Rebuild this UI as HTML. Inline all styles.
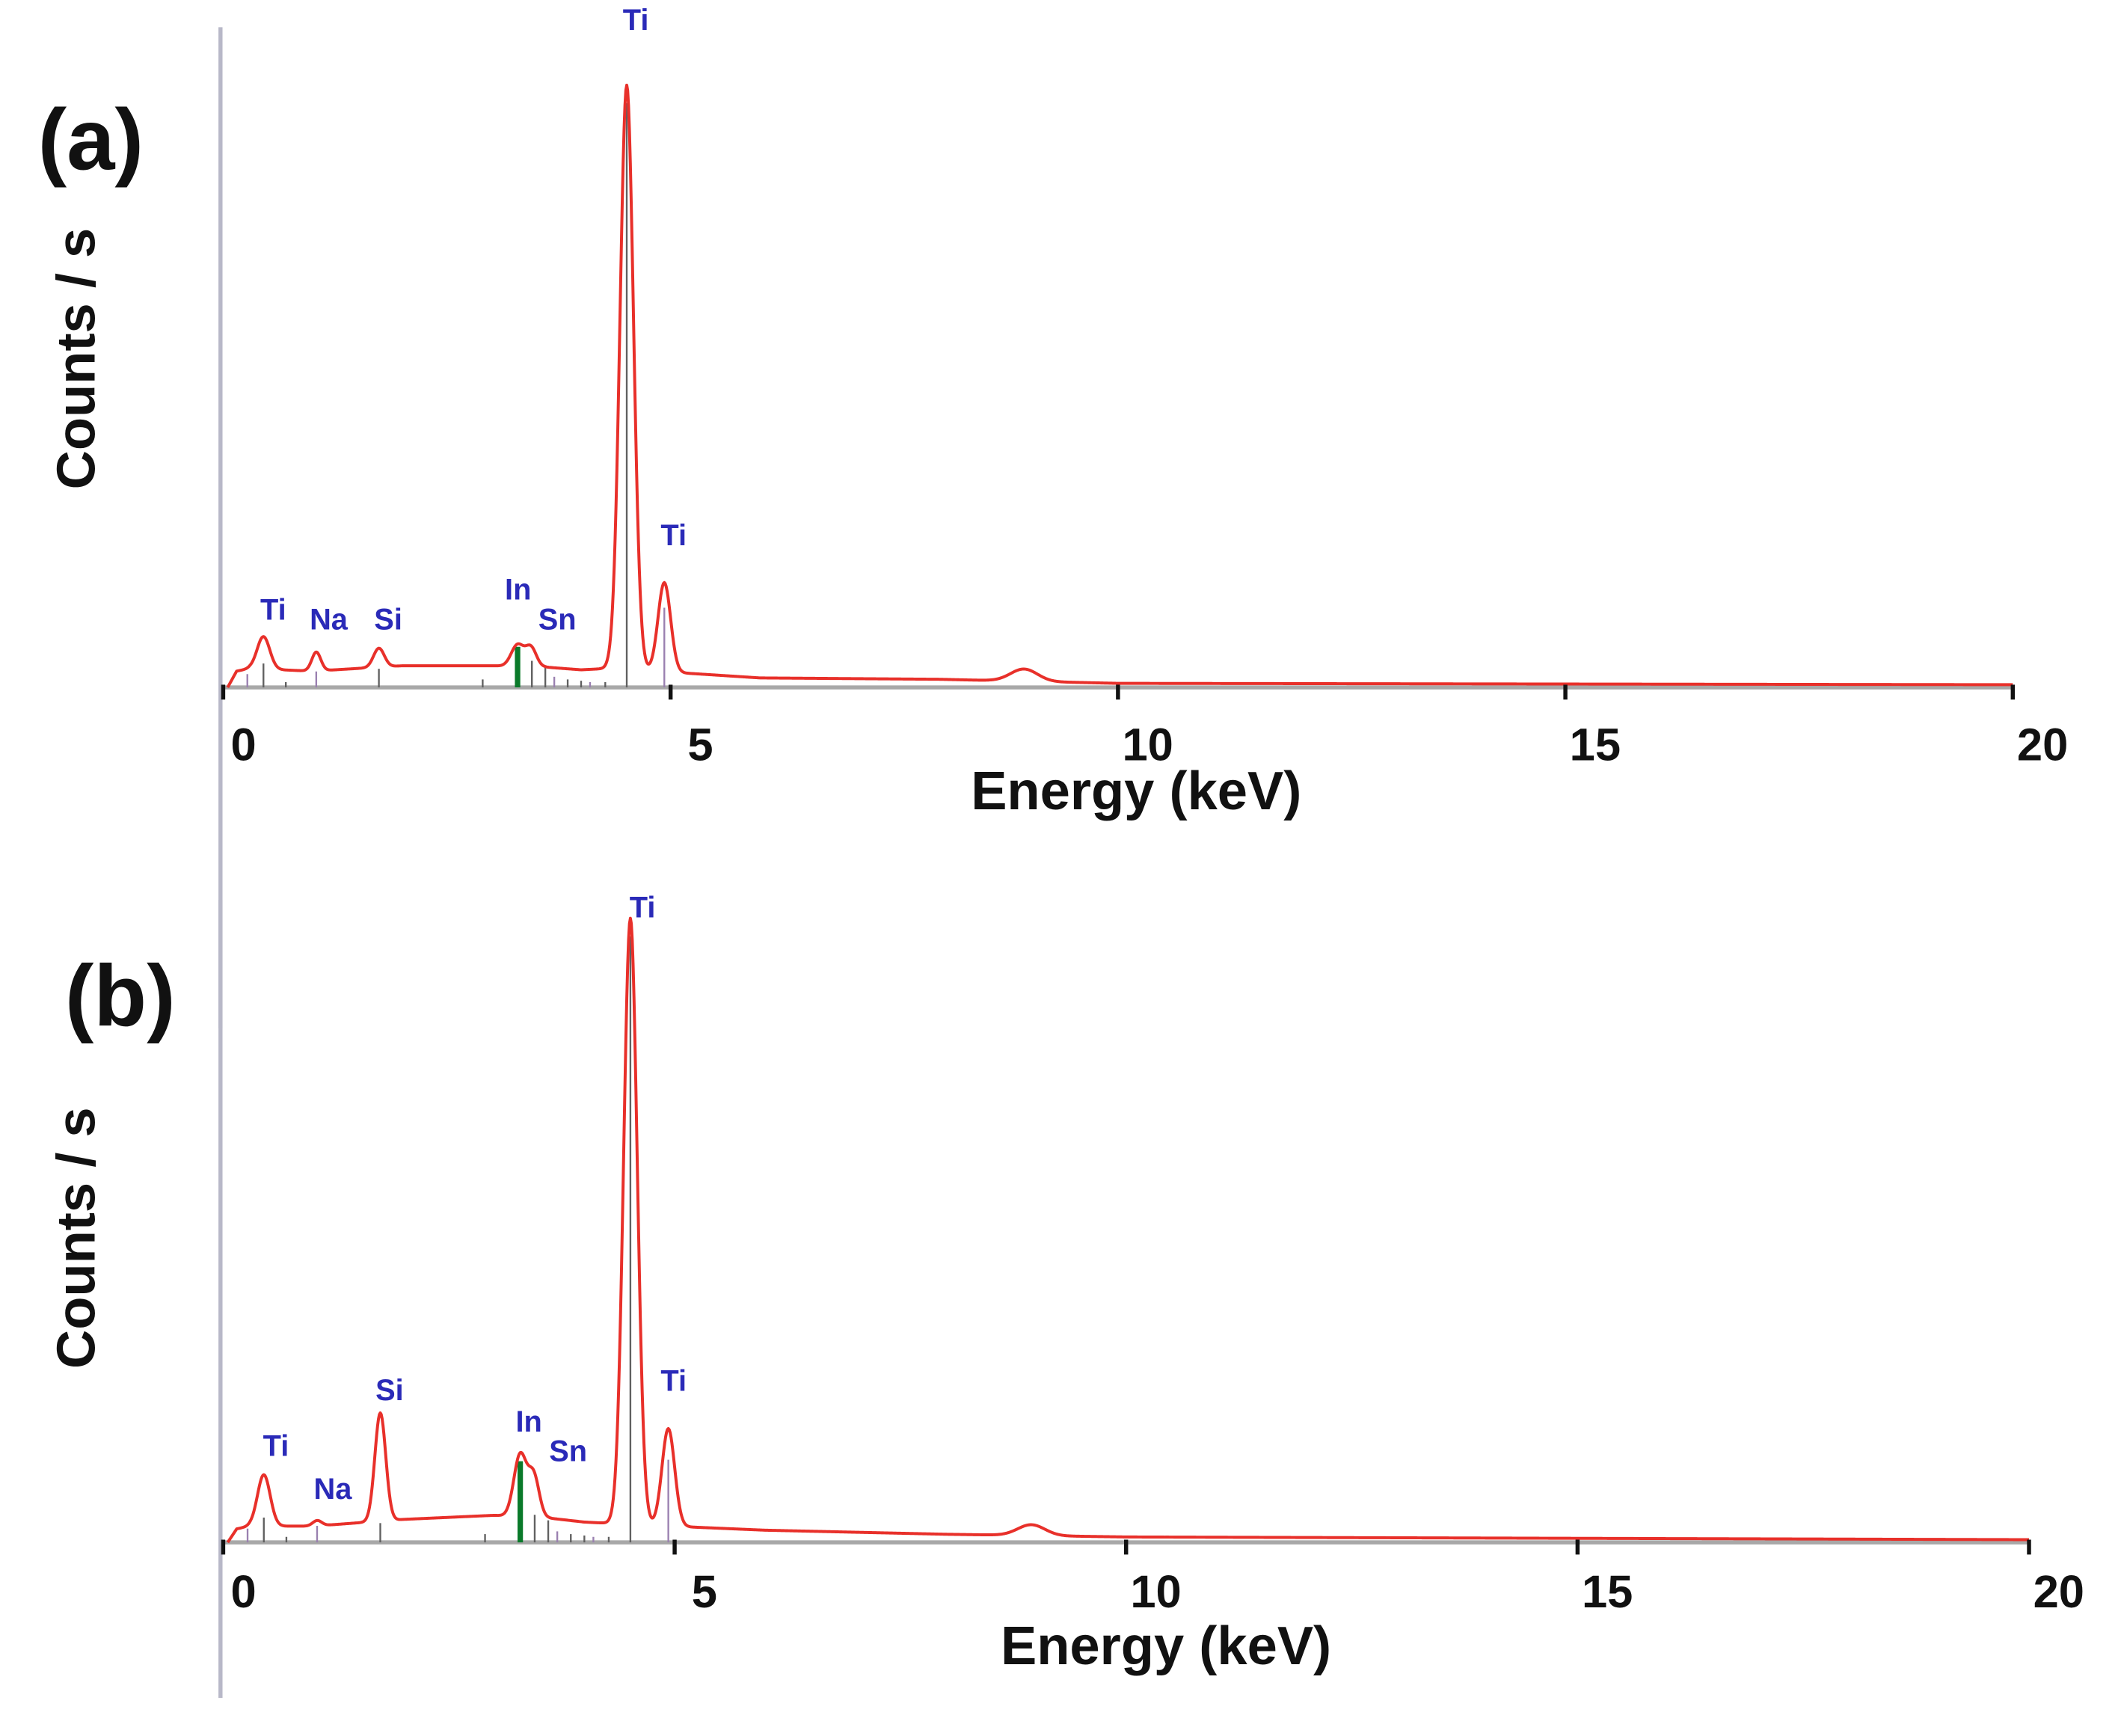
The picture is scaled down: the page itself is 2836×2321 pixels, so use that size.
<!DOCTYPE html>
<html><head><meta charset="utf-8"><style>
html,body{margin:0;padding:0;background:#fff;}
svg{display:block;}
text{font-family:"Liberation Sans",sans-serif;}
</style></head><body>
<svg id="chart" width="2836" height="2321" viewBox="0 0 1568 1283" xmlns="http://www.w3.org/2000/svg"></svg>
<script>
// ---- data ----
const xTicks = [0, 5, 10, 15, 20];
const peakNames = ["Ti", "Na", "Si", "In", "Sn", "Ti", "Ti", "Cu"];
const peakEnergies = [0.45, 1.04, 1.74, 3.29, 3.44, 4.51, 4.93, 8.95];
const peakWidths = [0.07, 0.05, 0.06, 0.07, 0.06, 0.075, 0.07, 0.15];
const peakHeightsA = [24, 14, 14, 16, 14, 432, 66, 9];
const peakHeightsB = [38, 4, 80, 46, 30, 448, 72, 8];
const bgEnergiesA = [0.05, 0.15, 0.3, 1.0, 2.0, 3.0, 3.6, 4.0, 4.3, 5.3, 6.0, 8.0, 10.0, 20.0];
const bgLevelsA = [0, 12, 14, 12, 16, 16, 15, 13, 14, 10, 7, 6, 3, 2];
const bgEnergiesB = [0.05, 0.15, 0.3, 1.0, 2.0, 3.0, 3.6, 4.0, 4.3, 5.3, 6.0, 8.0, 10.0, 20.0];
const bgLevelsB = [0, 10, 12, 12, 17, 20, 18, 15, 14, 11, 9, 6, 4, 2];
const labelEnergies = [0.45, 1.04, 1.74, 3.29, 3.44, 4.51, 4.93];
const markerEnergies = [0.27, 0.45, 0.7, 1.04, 1.74, 2.9, 3.29, 3.45, 3.6, 3.7, 3.85, 4.0, 4.1, 4.27, 4.51, 4.93];
const markerHeights = [10, 18, 4, 12, 14, 6, 24, 20, 16, 8, 6, 5, 4, 4, 440, 60];

const NS = "http://www.w3.org/2000/svg";
const svg = document.getElementById("chart");
function mk(tag, attrs, parent){const e=document.createElementNS(NS,tag);for(const k in attrs)e.setAttribute(k,attrs[k]);(parent||svg).appendChild(e);return e;}

const panels = [
  {id:"a", x0:165, x1:1488, base:508, yTop:20, yBot:760, heights:peakHeightsA, bgE:bgEnergiesA, bgL:bgLevelsA, tickY:562, titleY:598, titleX:840, letterX:28, letterY:125, countsY:265,
   labelPos:[[202,458],[243,465],[287,465],[383,443],[412,465],[470,22],[498,403]]},
  {id:"b", x0:165, x1:1500, base:1140, yTop:665, yBot:1255, heights:peakHeightsB, bgE:bgEnergiesB, bgL:bgLevelsB, tickY:1188, titleY:1230, titleX:862, letterX:48, letterY:758, countsY:915,
   labelPos:[[204,1076],[246,1108],[288,1035],[391,1058],[420,1080],[475,678],[498,1028]]}
];

function interp(es, ls, e){
  if(e<=es[0]) return ls[0];
  for(let i=1;i<es.length;i++){ if(e<=es[i]){const t=(e-es[i-1])/(es[i]-es[i-1]);return ls[i-1]+t*(ls[i]-ls[i-1]);} }
  return ls[ls.length-1];
}

panels.forEach(p=>{
  const g = mk("g",{});
  
  
  const sx = e => p.x0 + e*(p.x1-p.x0)/20;
  const sy = v => p.base - v;

  // left vertical line
  const yl = mk("line",{x1:163,x2:163,y1:p.yTop,y2:p.yBot,stroke:"#b8b8c8","stroke-width":3},g);
  
  

  // baseline
  const xl = mk("line",{x1:p.x0,x2:p.x1,y1:p.base,y2:p.base,stroke:"#a8a8a8","stroke-width":3},g);
  
  

  // element marker lines
  markerEnergies.forEach((e,i)=>{
    const isIn = Math.abs(e-3.29)<0.01;
    const m = mk("line",{x1:sx(e),x2:sx(e),y1:p.base,y2:p.base-markerHeights[i]*(p.heights[5]/440)*(i<14?1:1),
      stroke: isIn?"#0a7a2a":(i%3==0?"#9a80b0":"#606060"),"stroke-width":isIn?4:1.3},g);
    if(isIn) m.setAttribute("y2", p.base - p.heights[3]-14);
    
    
  });

  // spectrum
  let pts=[];
  for(let e=0.05;e<=20.0001;e+=0.01){
    let v = interp(p.bgE,p.bgL,e);
    peakEnergies.forEach((pe,i)=>{ v += p.heights[i]*Math.exp(-0.5*Math.pow((e-pe)/peakWidths[i],2)); });
    pts.push(sx(e).toFixed(2)+","+sy(v).toFixed(2));
  }
  const sp = mk("polyline",{points:pts.join(" "),fill:"none",stroke:"#e8302a","stroke-width":2.2,"stroke-linejoin":"round"},g);
  
  

  // ticks
  xTicks.forEach(t=>{
    const tk = mk("line",{x1:sx(t),x2:sx(t),y1:p.base-2,y2:p.base+9,stroke:"#111","stroke-width":3},g);
    
    
    const tl = mk("text",{x:sx(t)+(t==0?15:22),y:p.tickY,"font-size":34,"font-weight":"bold","text-anchor":"middle",fill:"#111"},g);
    tl.textContent=t;
    
    
  });

  // peak labels
  labelEnergies.forEach((e,i)=>{
    const lp = p.labelPos[i];
    const lt = mk("text",{x:lp[0],y:lp[1],"font-size":22,"font-weight":"bold","text-anchor":"middle",fill:"#2a2ab8"},g);
    lt.textContent = peakNames[i];
    
    
  });

  const xt = mk("text",{x:p.titleX,y:p.titleY,"font-size":40,"font-weight":"bold","text-anchor":"middle",fill:"#111"},g);
  xt.textContent="Energy (keV)";
  
  

  const yt = mk("text",{x:0,y:0,"font-size":40,"font-weight":"bold","text-anchor":"middle",fill:"#111",transform:"translate(70,"+p.countsY+") rotate(-90)"},g);
  yt.textContent="Counts / s";
  
  

  const pl = mk("text",{x:p.letterX,y:p.letterY,"font-size":64,"font-weight":"bold",fill:"#111"},g);
  pl.textContent="("+p.id+")";
  
  
});
</script>
</body></html>
